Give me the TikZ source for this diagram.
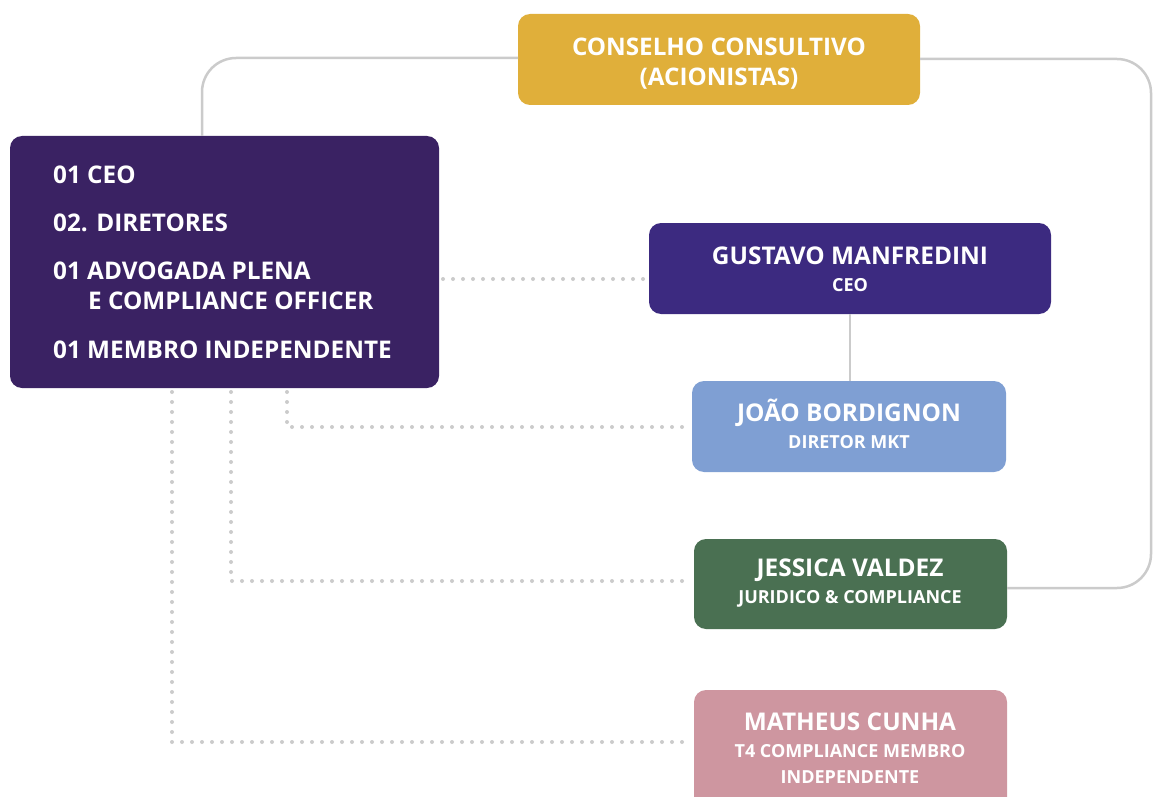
\documentclass[tikz,border=0pt]{standalone}
\usepackage{fontspec}
\setmainfont{Open Sans}
\usetikzlibrary{positioning}
\definecolor{cgold}{HTML}{E0AF3A}
\definecolor{cpurple}{HTML}{3A2263}
\definecolor{cceo}{HTML}{3C2A80}
\definecolor{cblue}{HTML}{7F9FD3}
\definecolor{cgreen}{HTML}{4A7052}
\definecolor{cpink}{HTML}{CE96A0}
\definecolor{cline}{HTML}{CBCBCB}
\tikzset{
  solidline/.style={draw=cline, line width=2.5pt, rounded corners=34pt},
  dotline/.style={draw=cline, line width=4pt, line cap=round, dash pattern=on 0pt off 10pt},
  big/.style={text=white, inner sep=0pt, font=\fontsize{24.4}{30}\selectfont\bfseries},
  small/.style={text=white, inner sep=0pt, align=center, font=\fontsize{18}{26}\selectfont\bfseries},
  listtext/.style={anchor=west, text=white, inner sep=0pt, font=\fontsize{24.3}{30}\selectfont\bfseries}
}
\begin{document}
\begin{tikzpicture}[x=1pt,y=-1pt]
\useasboundingbox (0,0) rectangle (1154,797);
% boxes
\fill[cgold, rounded corners=12pt] (518,14) rectangle (920,105);
\node[big, align=center, font=\fontsize{24.2}{30}\selectfont\bfseries] (cons) at (719,64) {CONSELHO CONSULTIVO\\(ACIONISTAS)};
\coordinate (consL) at (518,58);
\coordinate (consR) at (920,59);

\fill[cpurple, rounded corners=12pt] (10,136) rectangle (439,388);
\node[listtext] (l1) at (53,175) {01 CEO};
\node[listtext] (l2) at (53,223) {02. DIRETORES};
\node[listtext] (l3) at (53,271) {01 ADVOGADA PLENA};
\node[listtext] (l3b) at (88,301) {E COMPLIANCE OFFICER};
\node[listtext] (l4) at (53,350) {01 MEMBRO INDEPENDENTE};

\fill[cceo, rounded corners=12pt] (649,223) rectangle (1051,314);
\node[big] (g1) at (850,256) {GUSTAVO MANFREDINI};
\node[small] (g2) at (850,285) {CEO};

\fill[cblue, rounded corners=12pt] (692,381) rectangle (1006,472);
\node[big] (j1) at (849,413) {JOÃO BORDIGNON};
\node[small] (j2) at (849,442) {DIRETOR MKT};

\fill[cgreen, rounded corners=12pt] (694,539) rectangle (1007,629);
\node[big] (s1) at (850,570) {JESSICA VALDEZ};
\node[small] (s2) at (850,599) {JURIDICO \& COMPLIANCE};

\fill[cpink, rounded corners=12pt] (694,690) rectangle (1007,812);
\node[big] (m1) at (850,722) {MATHEUS CUNHA};
\node[small] (m2) at (850,764) {T4 COMPLIANCE MEMBRO\\INDEPENDENTE};

% solid connectors
\draw[solidline] (202,136) -- (202,58) -- (consL);
\draw[solidline] (consR) -- (1151,59) -- (1151,588) -- (1007,588);
\draw[draw=cline, line width=2.5pt] (850,314) -- (850,381);

% dotted connectors
\draw[dotline] (443,279) -- (645,279);
\draw[dotline] (287,392) -- (287,427) -- (688,427);
\draw[dotline] (231,392) -- (231,581) -- (690,581);
\draw[dotline] (172,392) -- (172,742) -- (690,742);
\end{tikzpicture}
\end{document}
